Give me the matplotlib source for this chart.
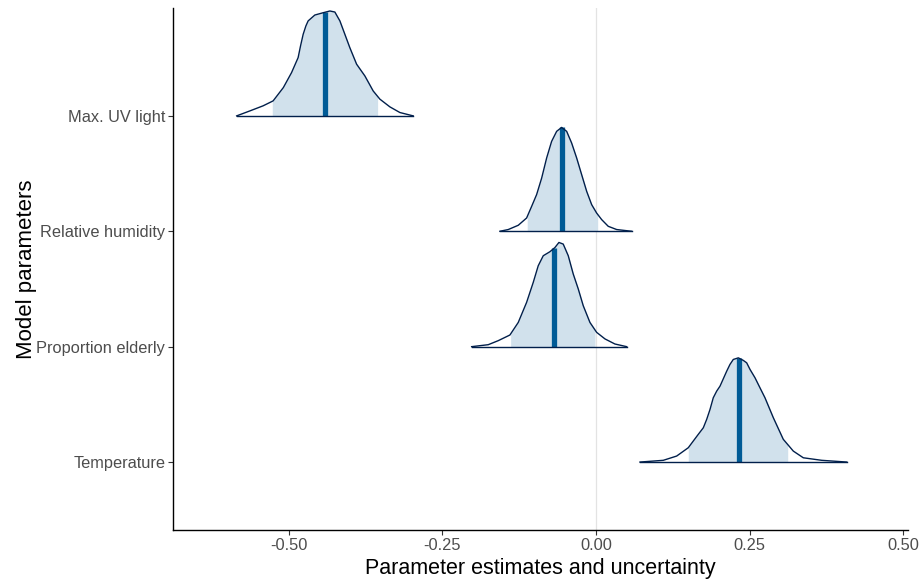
import matplotlib
matplotlib.use("Agg")
import matplotlib.pyplot as plt
import numpy as np

plt.rcParams["font.family"] = ["Liberation Sans", "DejaVu Sans"]

# parameters, bottom to top
params = ["Temperature", "Proportion elderly", "Relative humidity", "Max. UV light"]

# density outlines (x = estimate, h = scaled density)
temp_x = [0.0717, 0.1096, 0.1314, 0.1503, 0.1666, 0.1748, 0.1803, 0.1857, 0.191, 0.1966,
          0.202, 0.2129, 0.2182, 0.2236, 0.2318, 0.2399, 0.2454, 0.2508, 0.259, 0.2671,
          0.2752, 0.2888, 0.305, 0.3213, 0.3376, 0.3676, 0.4083]
temp_h = [0.0, 0.015, 0.052, 0.124, 0.24, 0.297, 0.37, 0.456, 0.557, 0.615,
          0.658, 0.788, 0.846, 0.889, 0.903, 0.881, 0.86, 0.803, 0.73, 0.643,
          0.557, 0.384, 0.197, 0.095, 0.037, 0.015, 0.0]

eld_x = [-0.2024, -0.1754, -0.1591, -0.1401, -0.1265, -0.1129, -0.1021, -0.094, -0.0858, -0.0749,
         -0.0668, -0.0603, -0.0533, -0.0451, -0.037, -0.0288, -0.0207, -0.0098, 0.0011, 0.0147,
         0.0309, 0.05]
eld_h = [0.0, 0.017, 0.052, 0.101, 0.21, 0.384, 0.557, 0.701, 0.788, 0.823,
         0.859, 0.903, 0.889, 0.788, 0.63, 0.5, 0.355, 0.21, 0.124, 0.067,
         0.023, 0.0]

hum_x = [-0.1564, -0.1428, -0.1265, -0.1129, -0.1047, -0.0966, -0.0884, -0.0803, -0.0722, -0.064,
         -0.0559, -0.0477, -0.0396, -0.0314, -0.0233, -0.0151, -0.007, 0.0011, 0.0093, 0.02,
         0.0337, 0.0581]
hum_h = [0.0, 0.015, 0.052, 0.115, 0.216, 0.318, 0.461, 0.635, 0.779, 0.866,
         0.9, 0.866, 0.765, 0.635, 0.491, 0.346, 0.231, 0.158, 0.101, 0.043,
         0.015, 0.0]

uv_x = [-0.585, -0.5635, -0.542, -0.5256, -0.509, -0.4956, -0.4849, -0.481, -0.4767, -0.4723,
        -0.4686, -0.4577, -0.4441, -0.4332, -0.4251, -0.4169, -0.4088, -0.4007, -0.3897, -0.3762,
        -0.3627, -0.3518, -0.3355, -0.3192, -0.2976]
uv_h = [0.0, 0.043, 0.087, 0.13, 0.245, 0.375, 0.505, 0.606, 0.707, 0.779,
        0.823, 0.874, 0.894, 0.909, 0.9, 0.823, 0.707, 0.591, 0.448, 0.346,
        0.216, 0.145, 0.078, 0.029, 0.0]

# inner interval and median
ci_low = [0.1503, -0.1389, -0.1119, -0.527]
ci_high = [0.3122, -0.0016, 0.0028, -0.3555]
medians = [0.2329, -0.0684, -0.0559, -0.441]

curves = [(temp_x, temp_h), (eld_x, eld_h), (hum_x, hum_h), (uv_x, uv_h)]

light = "#d1e1ec"
mid_hl = "#005b96"
dark_hl = "#011f4b"

fig = plt.figure(figsize=(9.19, 5.79), dpi=100)
ax = fig.add_axes([0.188, 0.0846, 0.800, 0.9016])

ax.axvline(0, color="#e3e3e3", lw=0.9, zorder=0)

for i, (cx, ch) in enumerate(curves):
    cx = np.array(cx)
    ch = np.array(ch)
    lo, hi = ci_low[i], ci_high[i]
    inside = (cx > lo) & (cx < hi)
    fx = np.concatenate([[lo], cx[inside], [hi]])
    fh = np.concatenate([[np.interp(lo, cx, ch)], ch[inside], [np.interp(hi, cx, ch)]])
    ax.fill_between(fx, i, i + fh, color=light, lw=0, zorder=1)
    mh = np.interp(medians[i], cx, ch)
    ax.plot([medians[i], medians[i]], [i, i + mh], color=mid_hl, lw=3.8,
            solid_capstyle="butt", zorder=2)
    ax.plot(cx, i + ch, color=dark_hl, lw=1.0, zorder=3, solid_joinstyle="round")
    ax.plot([cx[0], cx[-1]], [i, i], color=dark_hl, lw=1.0, zorder=3)

ax.set_xlim(-0.689, 0.508)
ax.set_ylim(-0.589, 3.935)
ax.set_xticks([-0.5, -0.25, 0, 0.25, 0.5])
ax.set_xticklabels(["-0.50", "-0.25", "0.00", "0.25", "0.50"])
ax.set_yticks(range(len(params)))
ax.set_yticklabels(params)

for s in ["top", "right"]:
    ax.spines[s].set_visible(False)
for s in ["left", "bottom"]:
    ax.spines[s].set_linewidth(1.0)
    ax.spines[s].set_color("black")

ax.tick_params(axis="both", length=3.5, width=0.8, color="#333333",
               labelcolor="#4d4d4d", labelsize=11.8, pad=2)

ax.set_xlabel("Parameter estimates and uncertainty", fontsize=15.5, color="black")
ax.set_ylabel("Model parameters", fontsize=16, color="black")
ax.xaxis.set_label_coords(0.5, -0.053)
ax.yaxis.set_label_coords(-0.185, 0.5)

fig.savefig("out.png", dpi=100)
